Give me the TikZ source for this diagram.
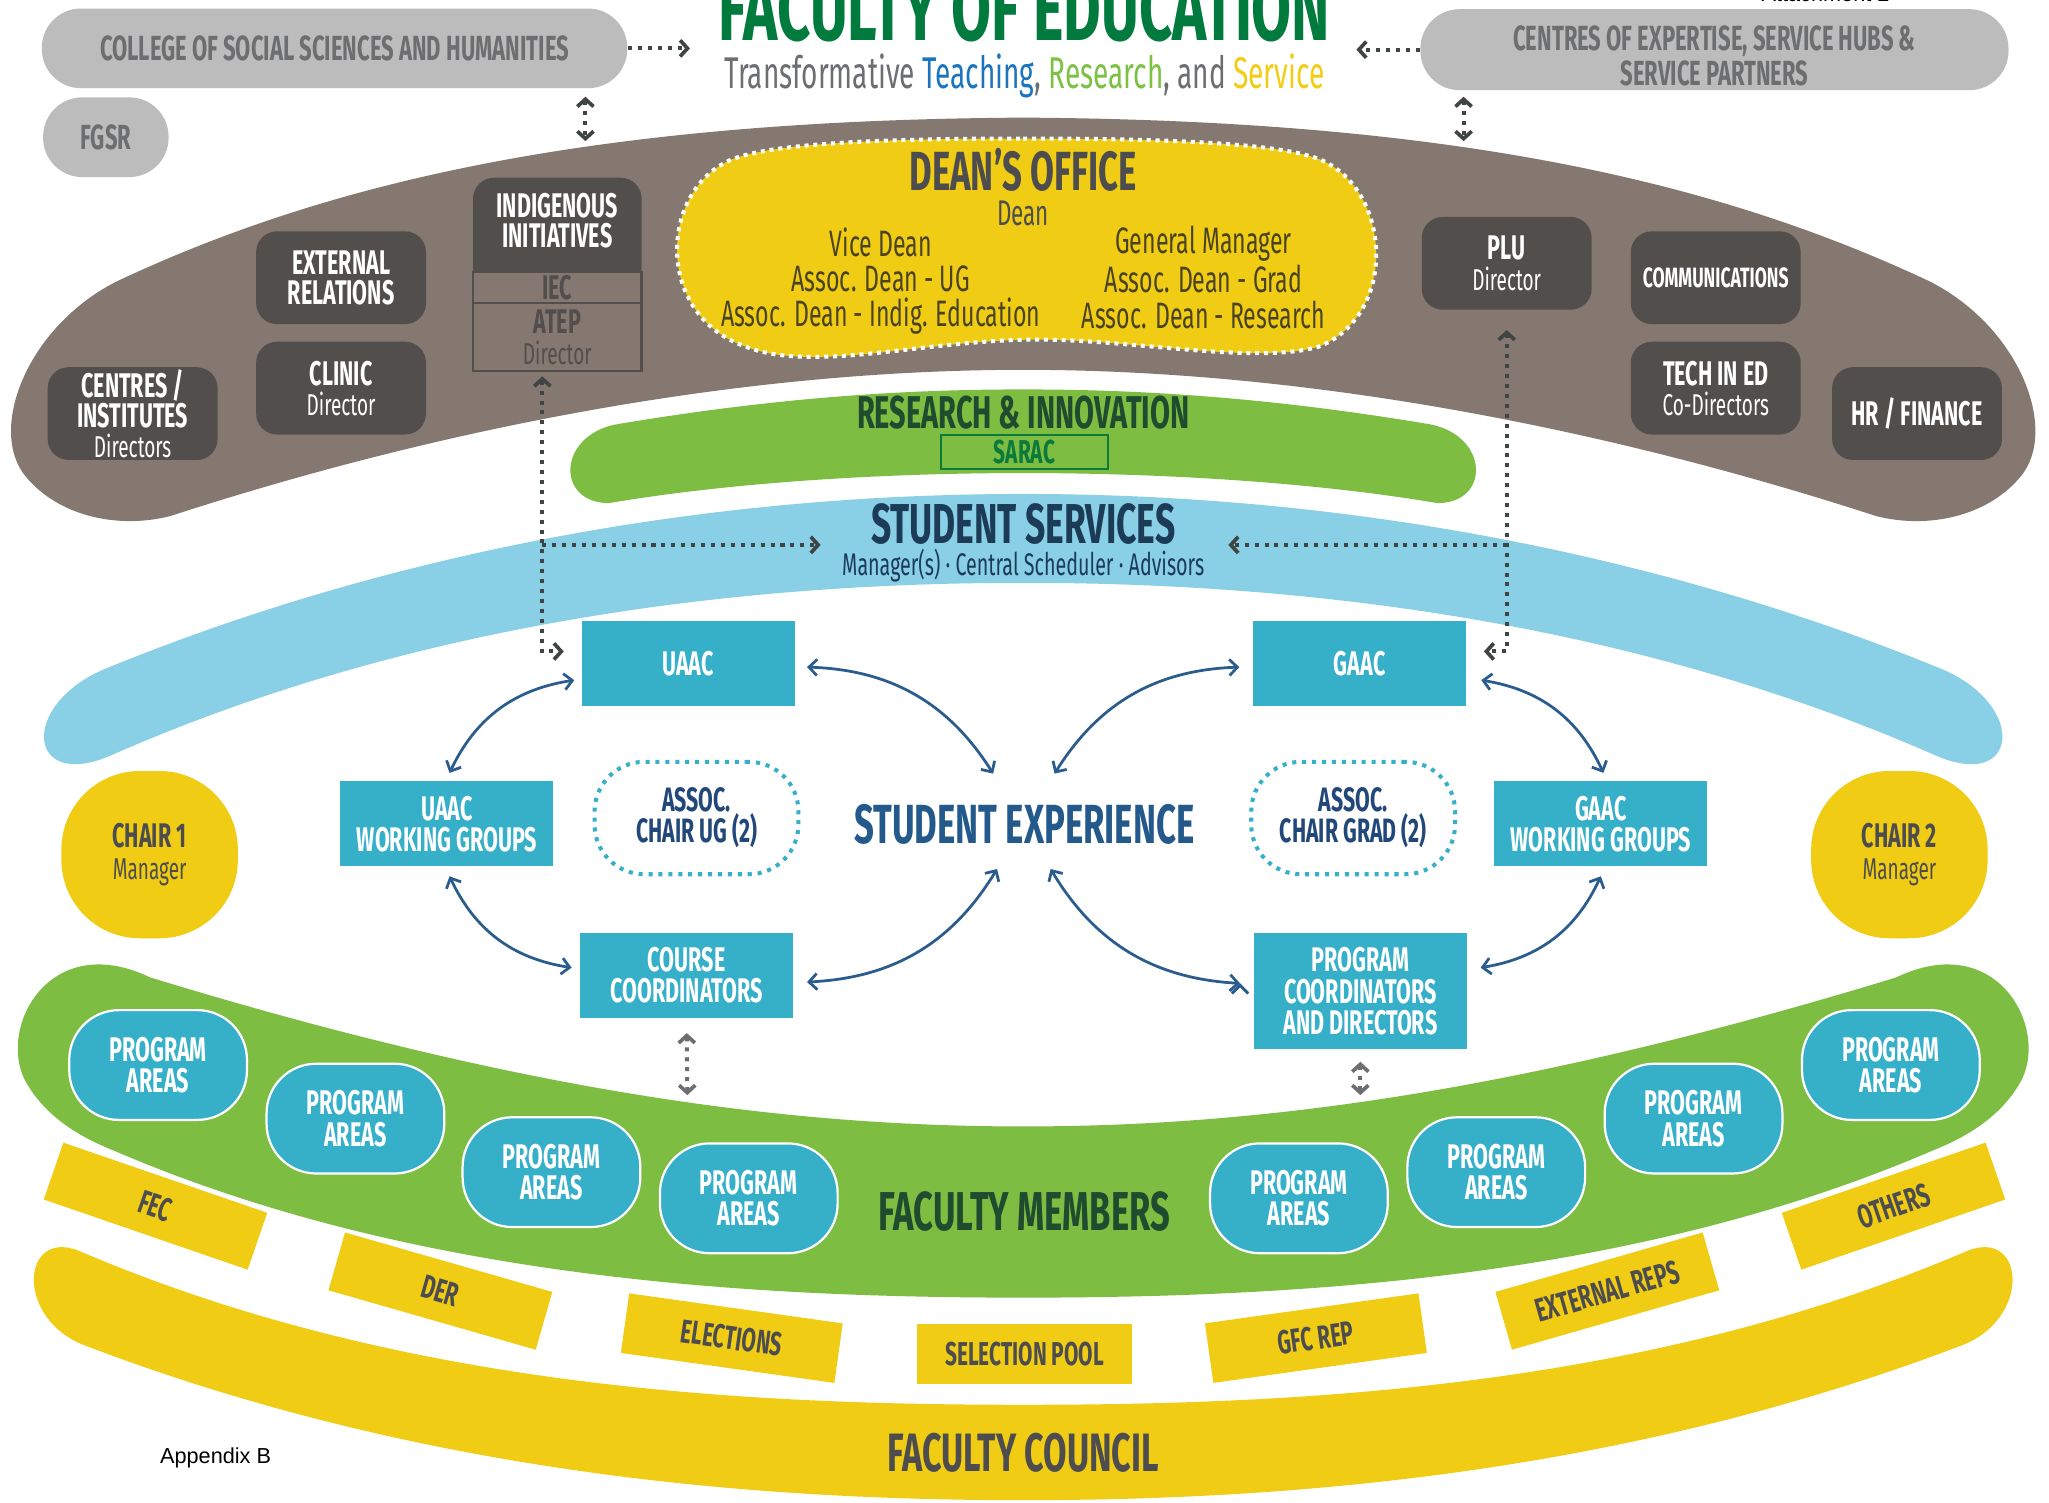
\documentclass[tikz,border=0pt]{standalone}
\usepackage{fontspec}
\setmainfont{Fira Sans}[FakeStretch=0.63]
\newfontfamily\arialfont{Liberation Sans}
\usetikzlibrary{positioning,arrows.meta}

\definecolor{titlegreen}{HTML}{007A3D}
\definecolor{subgray}{HTML}{6D6E71}
\definecolor{teachblue}{HTML}{1C75BC}
\definecolor{resgreen}{HTML}{7CC143}
\definecolor{servyellow}{HTML}{F2CD13}
\definecolor{boxgray}{HTML}{BDBCBC}
\definecolor{boxtext}{HTML}{6D6E70}
\definecolor{brownband}{HTML}{857870}
\definecolor{boxdark}{HTML}{524E4C}
\definecolor{deanyellow}{HTML}{F0CC15}
\definecolor{deangray}{HTML}{4D4D4F}
\definecolor{deanolive}{HTML}{4A4322}
\definecolor{bandgreen}{HTML}{7DBD42}
\definecolor{fmgreen}{HTML}{1F4B2E}
\definecolor{saracgreen}{HTML}{0B7A3B}
\definecolor{lightblue}{HTML}{89CFE5}
\definecolor{ssnavy}{HTML}{1C3B57}
\definecolor{tealbox}{HTML}{36AFC8}
\definecolor{assocnavy}{HTML}{22487A}
\definecolor{seblue}{HTML}{245A8B}
\definecolor{arrowblue}{HTML}{2A5C8D}
\definecolor{dotcol}{HTML}{3F4543}
\definecolor{midgray}{HTML}{6D6E71}

\newcommand{\px}{0.0125cm}
\newcommand{\fsz}[2]{\fontsize{#1}{#2}\selectfont}
\newcommand{\sublabel}[1]{{\mdseries\fsz{8.2}{8.2}#1}}

\tikzset{
  graypill/.style={fill=boxgray, text=boxtext, font=\bfseries\fsz{9.5}{9.6},
    rounded corners=30*\px, minimum height=61*\px},
  unitbox/.style={fill=boxdark, text=white, font=\bfseries\fsz{9.3}{8.2},
    rounded corners=16*\px, minimum width=130*\px, minimum height=71*\px},
  iebox/.style={draw=boxdark, line width=0.7pt, fill=brownband, text=boxdark,
    font=\bfseries\fsz{9.3}{8.5}, minimum width=129*\px},
  tealbox/.style={fill=tealbox, text=white, font=\bfseries\fsz{9.3}{8.5},
    minimum width=163*\px, minimum height=65*\px},
  assocbox/.style={draw=tealbox, line width=1.1pt, dash pattern=on 1.1pt off 1.6pt,
    rounded corners=38*\px, text=assocnavy, font=\bfseries\fsz{9.2}{8.5},
    minimum width=156*\px, minimum height=86*\px},
  chairbox/.style={fill=deanyellow, text=deangray, font=\bfseries\fsz{9.3}{8.5},
    rounded corners=60*\px, minimum width=135*\px, minimum height=128*\px},
  areabox/.style={fill=tealbox, draw=white, line width=0.6pt, text=white,
    font=\bfseries\fsz{9.3}{8.5}, rounded corners=38*\px,
    minimum width=136*\px, minimum height=84*\px},
  councilbox/.style={fill=deanyellow, text=deangray, font=\bfseries\fsz{9}{9},
    minimum width=165*\px, minimum height=46*\px},
  dotlink/.style={draw=dotcol, line width=1.1pt, dash pattern=on 1.1pt off 1.6pt,
    >={Straight Barb[length=2pt,width=4.4pt,line width=1pt]}},
  cyclink/.style={draw=arrowblue, line width=0.75pt,
    {Straight Barb[length=2.2pt,width=4.4pt]}-{Straight Barb[length=2.2pt,width=4.4pt]}}
}

\begin{document}
\begin{tikzpicture}[x=\px, y=-\px, every node/.style={inner sep=0pt, align=center}]
  \fill[white] (0,0) rectangle (1568,1150);
  \useasboundingbox (0,0) rectangle (1568,1150);

  % bands
  \fill[deanyellow] (60,957) .. controls (300,1060) and (560,1075) .. (783,1075)
    .. controls (1006,1075) and (1266,1060) .. (1506,957)
    .. controls (1550,940) and (1555,1010) .. (1500,1030)
    .. controls (1250,1125) and (1000,1148) .. (783,1148)
    .. controls (566,1148) and (316,1125) .. (66,1030)
    .. controls (11,1010) and (16,940) .. (60,957) -- cycle;
  \fill[bandgreen] (115,748) .. controls (400,835) and (600,862) .. (783,862)
    .. controls (966,862) and (1166,835) .. (1451,748)
    .. controls (1530,710) and (1570,790) .. (1545,830)
    .. controls (1530,855) and (1505,870) .. (1480,880)
    .. controls (1260,975) and (1010,993) .. (783,993)
    .. controls (556,993) and (306,975) .. (86,880)
    .. controls (61,870) and (36,855) .. (21,830)
    .. controls (-4,790) and (36,710) .. (115,748) -- cycle;
  \fill[brownband] (783,90) .. controls (1116,92) and (1316,140) .. (1476,215)
    .. controls (1546,250) and (1576,330) .. (1546,365)
    .. controls (1521,395) and (1476,405) .. (1436,395)
    .. controls (1236,330) and (1006,283) .. (783,283)
    .. controls (560,283) and (330,330) .. (130,395)
    .. controls (90,405) and (45,395) .. (20,365)
    .. controls (-10,330) and (20,250) .. (90,215)
    .. controls (250,140) and (450,92) .. (783,90) -- cycle;
  \fill[bandgreen] (470,325) .. controls (600,303) and (700,298) .. (783,298)
    .. controls (866,298) and (966,303) .. (1096,325)
    .. controls (1140,335) and (1140,385) .. (1100,385)
    .. controls (1000,368) and (880,362) .. (783,362)
    .. controls (686,362) and (566,368) .. (466,385)
    .. controls (426,385) and (426,335) .. (470,325) -- cycle;
  \fill[lightblue] (783,378) .. controls (1046,378) and (1286,430) .. (1486,512)
    .. controls (1552,540) and (1545,606) .. (1481,578)
    .. controls (1281,490) and (1046,446) .. (783,446)
    .. controls (520,446) and (285,490) .. (85,578)
    .. controls (21,606) and (14,540) .. (80,512)
    .. controls (280,430) and (520,378) .. (783,378) -- cycle;

  % title
  \node[font=\bfseries\fsz{25}{25}, text=titlegreen, anchor=base] (title) at (784,31) {FACULTY OF EDUCATION};
  \node[font=\fsz{12.1}{12.1}, text=subgray, anchor=base] (motto) at (784,68)
    {Transformative \textcolor{teachblue}{Teaching}, \textcolor{resgreen}{Research}, and \textcolor{servyellow}{Service}};
  \node[font=\arialfont\fsz{5.9}{6}, anchor=base] (attach) at (1397,1) {Attachment 2};

  \node[graypill, minimum width=448*\px] (coll) at (256,37) {COLLEGE OF SOCIAL SCIENCES AND HUMANITIES};
  \node[graypill, minimum width=96*\px] (fgsr) at (81,105) {FGSR};
  \node[graypill, minimum width=450*\px, minimum height=62*\px] (cexp) at (1312,38) {};
  \node[font=\bfseries\fsz{9.5}{9.6}, text=boxtext] (cexptxt) at (1312,43) {CENTRES OF EXPERTISE, SERVICE HUBS \&\\SERVICE PARTNERS};

  % units in the brown band
  \node[unitbox] (extrel) at (261,212.5) {EXTERNAL\\RELATIONS};
  \node[unitbox] (clinic) at (261,297) {CLINIC\\\sublabel{Director}};
  \node[unitbox] (centres) at (101.5,316.5) {CENTRES /\\INSTITUTES\\\sublabel{Directors}};
  \node[unitbox] (plu) at (1153,201.5) {PLU\\\sublabel{Director}};
  \node[unitbox, font=\bfseries\fsz{7.6}{8.2}] (comms) at (1313,212.5) {COMMUNICATIONS};
  \node[unitbox] (teched) at (1313,297) {TECH IN ED\\\sublabel{Co-Directors}};
  \node[unitbox] (hrfin) at (1467,316.5) {HR / FINANCE};

  \fill[boxdark, rounded corners=16*\px] (362,136) rectangle (491,226);
  \node[font=\bfseries\fsz{9.3}{8.2}, text=white] (indig) at (426.5,169) {INDIGENOUS\\INITIATIVES};
  \node[iebox, minimum height=24*\px] (iec) at (426.5,220) {IEC};
  \node[iebox, minimum height=52*\px] (atep) at (426.5,258) {ATEP\\\sublabel{Director}};

  % dean's office
  \draw[fill=deanyellow, draw=white, line width=1.1pt, dash pattern=on 1.1pt off 1.3pt]
    (783,106) .. controls (900,106) and (980,110) .. (1010,122)
    .. controls (1065,145) and (1070,240) .. (1010,265)
    .. controls (960,280) and (860,258) .. (783,260)
    .. controls (700,262) and (620,285) .. (570,265)
    .. controls (500,240) and (505,145) .. (560,122)
    .. controls (590,110) and (670,106) .. (783,106) -- cycle;
  \node[font=\bfseries\fsz{15}{15}, text=deangray] (dean) at (783,130) {DEAN’S OFFICE};
  \node[font=\fsz{9.7}{9.7}, text=deangray] (deanname) at (783,163) {Dean};
  \node[font=\fsz{10}{9.6}, text=deanolive] (deanl) at (674,215)
    {Vice Dean\\Assoc. Dean - UG\\Assoc. Dean - Indig. Education};
  \node[font=\fsz{10}{9.6}, text=deanolive] (deanr) at (921,215)
    {General Manager\\Assoc. Dean - Grad\\Assoc. Dean - Research\vphantom{g}};

  % research and student services
  \node[font=\bfseries\fsz{12.5}{12.5}, text=fmgreen] (ri) at (783,316) {RESEARCH \& INNOVATION};
  \node[draw=saracgreen, line width=0.6pt, minimum width=128*\px, minimum height=26*\px,
    text=saracgreen, font=\bfseries\fsz{9}{9}] (sarac) at (784,346) {SARAC};
  \node[font=\bfseries\fsz{15.3}{15.3}, text=ssnavy] (ss) at (783,401) {STUDENT SERVICES};
  \node[font=\fsz{8.5}{8.5}, text=ssnavy] (ssub) at (783,433) {Manager(s) · Central Scheduler · Advisors};

  % committees
  \node[tealbox] (uaac) at (526.5,507.5) {UAAC};
  \node[tealbox] (gaac) at (1040.5,507.5) {GAAC};
  \node[tealbox] (uwg) at (342,630.5) {UAAC\\WORKING GROUPS};
  \node[tealbox] (gwg) at (1225,630.5) {GAAC\\WORKING GROUPS};
  \node[tealbox] (cc) at (525.5,746.5) {COURSE\\COORDINATORS};
  \node[tealbox, minimum height=89*\px] (pcd) at (1041,758.5) {PROGRAM\\COORDINATORS\\AND DIRECTORS};
  \node[assocbox] (acug) at (533,626) {ASSOC.\\CHAIR UG (2)};
  \node[assocbox] (acgrad) at (1035.5,626) {ASSOC.\\CHAIR GRAD (2)};
  \node[font=\bfseries\fsz{15}{15}, text=seblue] (se) at (784,631) {STUDENT EXPERIENCE};

  \node[chairbox] (chair1) at (114.5,654) {CHAIR 1\\\sublabel{Manager}};
  \node[chairbox] (chair2) at (1453.5,654) {CHAIR 2\\\sublabel{Manager}};

  % faculty members
  \node[areabox] (pa1) at (121,815) {PROGRAM\\AREAS};
  \node[areabox] (pa2) at (272,856) {PROGRAM\\AREAS};
  \node[areabox] (pa3) at (422,897) {PROGRAM\\AREAS};
  \node[areabox] (pa4) at (573,917) {PROGRAM\\AREAS};
  \node[areabox] (pa5) at (994,917) {PROGRAM\\AREAS};
  \node[areabox] (pa6) at (1145,897) {PROGRAM\\AREAS};
  \node[areabox] (pa7) at (1296,856) {PROGRAM\\AREAS};
  \node[areabox] (pa8) at (1447,815) {PROGRAM\\AREAS};
  \node[font=\bfseries\fsz{14.9}{14.9}, text=fmgreen] (fm) at (784,927) {FACULTY MEMBERS};

  % faculty council
  \node[councilbox, rotate=-19] (fec) at (119,923) {FEC};
  \node[councilbox, rotate=-16] (der) at (337,988) {DER};
  \node[councilbox, rotate=-8] (elect) at (560,1024) {ELECTIONS};
  \node[councilbox] (pool) at (784,1036) {SELECTION POOL};
  \node[councilbox, rotate=8] (gfc) at (1007,1024) {GFC REP};
  \node[councilbox, rotate=16] (extreps) at (1230,988) {EXTERNAL REPS};
  \node[councilbox, rotate=19] (others) at (1449,923) {OTHERS};
  \node[font=\bfseries\fsz{14.7}{14.7}, text=deangray] (fc) at (783,1112) {FACULTY COUNCIL};
  \node[font=\arialfont\fsz{5.9}{6}] (appx) at (165,1116) {Appendix B};

  % dotted links
  \coordinate (ctip) at (528,37);
  \coordinate (etip) at (1038,38);
  \coordinate (lup) at (448,74);
  \coordinate (ldn) at (448,108);
  \coordinate (rup) at (1120,74);
  \coordinate (rdn) at (1120,108);
  \coordinate (ljoin) at (415,417);
  \coordinate (ltip) at (628,417);
  \coordinate (rjoin) at (1153,417);
  \coordinate (rtip) at (940,417);
  \coordinate (ccdn) at (526,838);
  \coordinate (pcdn) at (1041,838);
  \draw[dotlink,->] (coll) -- (ctip);
  \draw[dotlink,->] (cexp) -- (etip);
  \draw[dotlink,<->] (lup) -- (ldn);
  \draw[dotlink,<->] (rup) -- (rdn);
  \draw[dotlink,<->] ([xshift=-11.5*\px, yshift=-3*\px]atep.south) |- ([xshift=-13*\px, yshift=9*\px]uaac.west);
  \draw[dotlink,->] (ljoin) -- (ltip);
  \draw[dotlink,<->] ([yshift=-15*\px]plu.south) |- ([xshift=13*\px, yshift=9*\px]gaac.east);
  \draw[dotlink,->] (rjoin) -- (rtip);
  \draw[dotlink,draw=midgray,<->] ([yshift=-11*\px]cc.south) -- (ccdn);
  \draw[dotlink,draw=midgray,<->] ([yshift=-9*\px]pcd.south) -- (pcdn);

  % student experience cycle
  \path[cyclink]
    ([shift={(-5,13)}]uaac.west) edge[bend right=28] ([shift={(2,-6)}]uwg.north)
    ([shift={(9,3)}]uaac.east) edge[bend left=28] ([shift={(-24,-39)}]se.center)
    ([shift={(2,7)}]uwg.south) edge[bend right=28] ([shift={(-6,-6)}]cc.west)
    ([shift={(10,5)}]cc.east) edge[bend right=28] ([shift={(-21,34)}]se.center)
    ([shift={(-10,3)}]gaac.west) edge[bend right=28] ([shift={(23,-39)}]se.center)
    ([shift={(11,13)}]gaac.east) edge[bend left=28] ([shift={(2,-6)}]gwg.north)
    ([shift={(0,7)}]gwg.south) edge[bend left=28] ([shift={(10,-18)}]pcd.east)
    ([shift={(-10,-6)}]pcd.west) edge[bend left=28] ([shift={(20,34)}]se.center);
\end{tikzpicture}
\end{document}
